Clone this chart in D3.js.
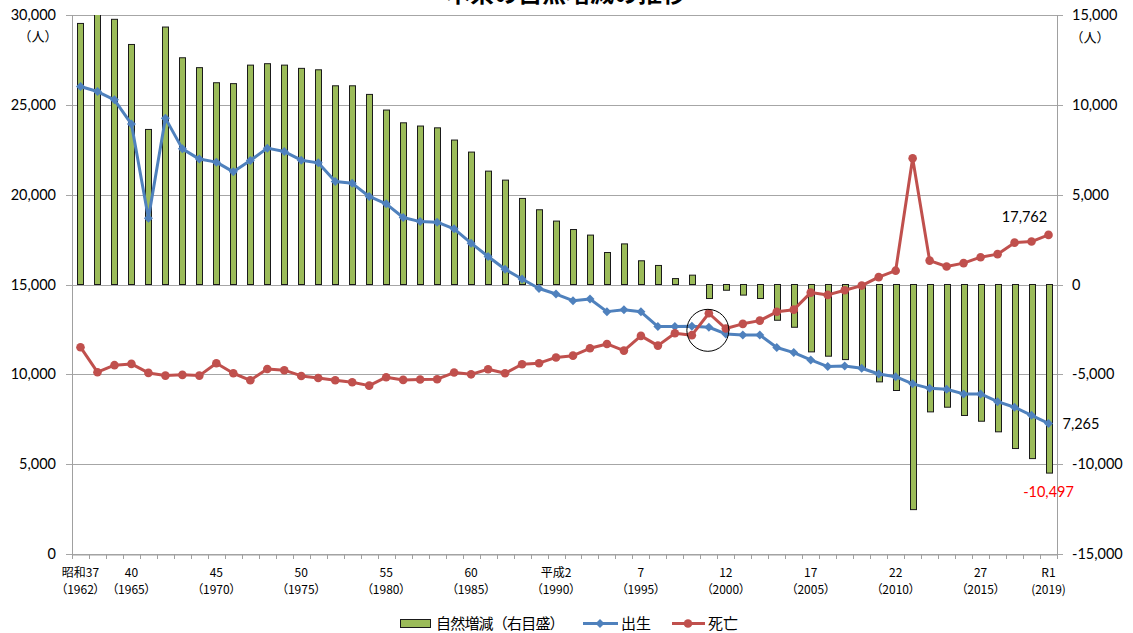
<!DOCTYPE html>
<html><head><meta charset="utf-8">
<script src="https://cdn.jsdelivr.net/npm/d3@7"></script>
<style>
html,body{margin:0;padding:0;background:#fff;}
svg{display:block;}
.jp{font-family:"Noto Sans CJK JP","Noto Sans",sans-serif;}
.num{font-family:Lato,"Open Sans",sans-serif;}
</style></head>
<body>
<svg id="chart" width="1133" height="633"></svg>
<script>
const title = "本県の自然増減の推移";
const years = [1962,1963,1964,1965,1966,1967,1968,1969,1970,1971,1972,1973,1974,1975,1976,1977,1978,1979,
  1980,1981,1982,1983,1984,1985,1986,1987,1988,1989,1990,1991,1992,1993,1994,1995,1996,1997,1998,1999,
  2000,2001,2002,2003,2004,2005,2006,2007,2008,2009,2010,2011,2012,2013,2014,2015,2016,2017,2018,2019];
const births = [26020,25740,25280,23930,18690,24260,22550,21980,21810,21270,21900,22590,22400,21920,21770,20730,20630,19900,
  19490,18730,18500,18470,18100,17300,16560,15850,15310,14780,14470,14100,14190,13490,13590,13480,12660,12660,12670,12620,
  12250,12190,12190,11490,11210,10800,10430,10470,10340,10020,9870,9470,9220,9170,8910,8910,8480,8170,7720,7265];
const deaths = [11510,10120,10510,10580,10080,9930,9970,9930,10620,10060,9670,10300,10230,9910,9800,9670,9560,9370,
  9840,9690,9710,9730,10100,10000,10280,10060,10560,10620,10940,11040,11450,11690,11320,12140,11600,12290,12180,13400,
  12550,12810,12990,13480,13600,14550,14420,14680,14940,15410,15770,22030,16330,16000,16190,16520,16690,17330,17390,17762];
const naturalChange = [14530,15600,14760,13360,8630,14330,12620,12070,11230,11180,12210,12290,12210,12030,11950,11060,11060,10580,
  9710,9000,8820,8720,8040,7370,6310,5810,4790,4160,3530,3060,2750,1780,2260,1320,1060,330,520,-780,
  -320,-590,-780,-1990,-2380,-3750,-3990,-4180,-4650,-5420,-5900,-12530,-7090,-6830,-7290,-7610,-8200,-9130,-9690,-10497];
const leftTicks = [0,5000,10000,15000,20000,25000,30000];
const rightTicks = [-15000,-10000,-5000,0,5000,10000,15000];
const xLabelYears = [1962,1965,1970,1975,1980,1985,1990,1995,2000,2005,2010,2015,2019];
const xLabelEra = ["昭和37","40","45","50","55","60","平成2","7","12","17","22","27","R1"];
const xLabelAD = ["（1962）","（1965）","（1970）","（1975）","（1980）","（1985）","（1990）","（1995）","（2000）","（2005）","（2010）","（2015）","(2019)"];
const unitLabel = "（人）";
const legendNames = ["自然増減（右目盛）","出生","死亡"];
const circledYear = 1999, circledValue = 12450;

const C = {bar:"#9BBB59", birth:"#4F81BD", death:"#C0504D", grid:"#a6a6a6", axis:"#a0a0a0"};
const M = {left:72, right:1057, top:15, bottom:554};

const svg = d3.select("#chart");
const loc = d3.formatLocale({decimal:".", thousands:",", grouping:[3], currency:["",""], minus:"-"});
const fmt = loc.format(",");

const x = d3.scaleBand().domain(years).range([M.left, M.right]).padding(0);
const xc = y => x(y) + x.bandwidth()/2;
const yL = d3.scaleLinear().domain([0,30000]).range([M.bottom, M.top]);
const yR = d3.scaleLinear().domain([-15000,15000]).range([M.bottom, M.top]);

// title (mostly cut off at top)
svg.append("text").attr("class","jp").attr("x",566).attr("y",2)
  .attr("text-anchor","middle").attr("font-size",24).attr("font-weight","bold").attr("fill","#000").text(title);

// gridlines (double as axis ticks)
svg.append("g").selectAll("line").data(leftTicks).join("line")
  .attr("x1",M.left-6).attr("x2",M.right+6)
  .attr("y1",d=>Math.round(yL(d))+0.5).attr("y2",d=>Math.round(yL(d))+0.5)
  .attr("stroke",C.grid).attr("stroke-width",1);

// vertical axis lines
svg.append("line").attr("x1",M.left+0.5).attr("x2",M.left+0.5).attr("y1",M.top).attr("y2",M.bottom+1).attr("stroke",C.axis);
svg.append("line").attr("x1",M.right+0.5).attr("x2",M.right+0.5).attr("y1",M.top).attr("y2",M.bottom+1).attr("stroke",C.axis);

// x axis
const xAxis = d3.axisBottom(x).tickValues([]).tickSizeOuter(0);
svg.append("g").attr("transform",`translate(0,${Math.round(yL(0))+0.5})`).call(xAxis)
  .call(g=>g.select(".domain").attr("stroke",C.axis));
const boundaries = years.map(y=>x(y)).concat([x(years[years.length-1])+x.bandwidth()]);
svg.append("g").selectAll("line").data(boundaries).join("line")
  .attr("x1",d=>Math.round(d)+0.5).attr("x2",d=>Math.round(d)+0.5)
  .attr("y1",M.bottom).attr("y2",M.bottom+5).attr("stroke",C.axis);

// left tick labels
svg.append("g").selectAll("text").data(leftTicks).join("text").attr("class","num")
  .attr("x",56).attr("y",d=>yL(d)+5).attr("text-anchor","end")
  .attr("font-size",14.5).attr("fill","#000").text(d=>fmt(d));
// right tick labels
svg.append("g").selectAll("text").data(rightTicks).join("text").attr("class","num")
  .attr("x",1072).attr("y",d=>yR(d)+5).attr("text-anchor","start")
  .attr("font-size",14.5).attr("fill","#000").text(d=>fmt(d));
// units
svg.append("text").attr("class","jp").attr("x",38).attr("y",41).attr("text-anchor","middle")
  .attr("font-size",13).text(unitLabel);
svg.append("text").attr("class","jp").attr("x",1090).attr("y",42).attr("text-anchor","middle")
  .attr("font-size",13).text(unitLabel);

// x labels
const xl = svg.append("g").attr("class","jp").attr("font-size",12).attr("fill","#000")
  .style("font-feature-settings","'palt'");
xLabelYears.forEach((yr,i)=>{
  xl.append("text").attr("x",xc(yr)).attr("y",577).attr("text-anchor","middle").text(xLabelEra[i]);
  xl.append("text").attr("x",xc(yr)).attr("y",594).attr("text-anchor","middle").text(xLabelAD[i]);
});

// clip
svg.append("clipPath").attr("id","plot").append("rect")
  .attr("x",M.left).attr("y",M.top).attr("width",M.right-M.left).attr("height",M.bottom-M.top);

// bars
const bw = 6;
svg.append("g").attr("clip-path","url(#plot)").selectAll("rect").data(years).join("rect")
  .attr("x",(d)=>Math.round(xc(d)-bw/2)+0.5)
  .attr("y",(d,i)=>yR(Math.max(0,naturalChange[i])))
  .attr("width",bw)
  .attr("height",(d,i)=>Math.abs(yR(naturalChange[i])-yR(0)))
  .attr("fill",C.bar).attr("stroke","#1a1a1a").attr("stroke-width",1);

// lines
const line = d3.line().x(d=>xc(d[0])).y(d=>yL(d[1]));
const bData = years.map((y,i)=>[y,births[i]]);
const dData = years.map((y,i)=>[y,deaths[i]]);
const diamond = s => `M0,${-s}L${s},0L0,${s}L${-s},0Z`;

svg.append("path").datum(bData).attr("d",line).attr("fill","none")
  .attr("stroke",C.birth).attr("stroke-width",3).attr("stroke-linejoin","round");
svg.append("g").selectAll("path").data(bData).join("path")
  .attr("transform",d=>`translate(${xc(d[0])},${yL(d[1])})`).attr("d",diamond(4.5)).attr("fill",C.birth);

svg.append("path").datum(dData).attr("d",line).attr("fill","none")
  .attr("stroke",C.death).attr("stroke-width",3).attr("stroke-linejoin","round");
svg.append("g").selectAll("circle").data(dData).join("circle")
  .attr("cx",d=>xc(d[0])).attr("cy",d=>yL(d[1])).attr("r",4.3).attr("fill",C.death);

// annotation circle
svg.append("circle").attr("cx",xc(circledYear)-1).attr("cy",yL(circledValue))
  .attr("r",21).attr("fill","none").attr("stroke","#000").attr("stroke-width",1);

// value labels
const last = years.length-1;
svg.append("text").attr("class","num").attr("x",xc(years[last])-24).attr("y",yL(deaths[last])-13)
  .attr("text-anchor","middle").attr("font-size",14.5).attr("fill","#000").text(fmt(deaths[last]));
svg.append("text").attr("class","num").attr("x",xc(years[last])+14).attr("y",yL(births[last])+6)
  .attr("text-anchor","start").attr("font-size",14.5).attr("fill","#000").text(fmt(births[last]));
svg.append("text").attr("class","num").attr("x",xc(years[last])).attr("y",yR(naturalChange[last])+24)
  .attr("text-anchor","middle").attr("font-size",14.5).attr("fill","#ff0000").text(fmt(naturalChange[last]));

// legend
const lg = svg.append("g").attr("class","jp").attr("font-size",15);
lg.append("rect").attr("x",400.5).attr("y",619.5).attr("width",30).attr("height",8)
  .attr("fill",C.bar).attr("stroke","#1a1a1a");
lg.append("text").attr("x",436).attr("y",629).attr("letter-spacing",-0.8).text(legendNames[0]);
lg.append("line").attr("x1",583).attr("x2",618).attr("y1",623.5).attr("y2",623.5).attr("stroke",C.birth).attr("stroke-width",3);
lg.append("path").attr("transform","translate(600,623.5)").attr("d",diamond(4.5)).attr("fill",C.birth);
lg.append("text").attr("x",621).attr("y",629).text(legendNames[1]);
lg.append("line").attr("x1",672).attr("x2",705).attr("y1",623.5).attr("y2",623.5).attr("stroke",C.death).attr("stroke-width",3);
lg.append("circle").attr("cx",688).attr("cy",623.5).attr("r",4.3).attr("fill",C.death);
lg.append("text").attr("x",708).attr("y",629).text(legendNames[2]);
</script>
</body></html>
